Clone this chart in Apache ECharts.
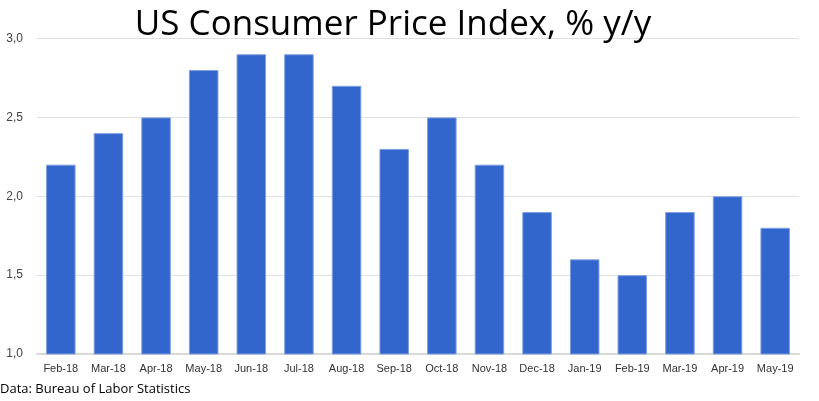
<!DOCTYPE html>
<html><head><meta charset="utf-8">
<script src="https://cdn.jsdelivr.net/npm/echarts@6/dist/echarts.min.js"></script>
<style>html,body{margin:0;padding:0;background:#fff}#c{width:819px;height:401px}</style>
</head><body><div id="c"></div>
<script>
const categories = ['Feb-18','Mar-18','Apr-18','May-18','Jun-18','Jul-18','Aug-18','Sep-18','Oct-18','Nov-18','Dec-18','Jan-19','Feb-19','Mar-19','Apr-19','May-19'];
const cpiValues = [2.2,2.4,2.5,2.8,2.9,2.9,2.7,2.3,2.5,2.2,1.9,1.6,1.5,1.9,2.0,1.8];
const titleText = 'US Consumer Price Index, % y/y';
const sourceText = 'Data: Bureau of Labor Statistics';

const chart = echarts.init(document.getElementById('c'), null, {renderer:'canvas'});
chart.setOption({
  animation:false,
  title:[{text:titleText,left:393,textAlign:'center',top:8,padding:0,textStyle:{fontFamily:'Open Sans',fontWeight:'normal',fontSize:35,color:'#000'}},
         {text:sourceText,left:0,top:383,padding:0,textStyle:{fontFamily:'Open Sans',fontWeight:'normal',fontSize:13,color:'#000'}}],
  grid:{left:37,right:20,top:38.5,bottom:47},
  xAxis:{type:'category',data:categories,
    axisLine:{show:true,lineStyle:{color:'#d9d9d9',width:2}},axisTick:{show:false},
    axisLabel:{color:'#333',fontFamily:'Arial',fontSize:11,margin:9,interval:0}},
  yAxis:{type:'value',min:1,max:3,interval:0.5,
    axisLine:{show:false},axisTick:{show:false},
    splitLine:{lineStyle:{color:'#e0e0e0',width:1}},
    axisLabel:{color:'#444',fontFamily:'Arial',fontSize:12,margin:14,formatter:v=>v.toFixed(1).replace('.',',')}},
  series:[{type:'bar',data:cpiValues,barWidth:'62%',
    itemStyle:{color:'#3366cc',borderColor:'#7f9fe0',borderWidth:1}}]
});
</script></body></html>
